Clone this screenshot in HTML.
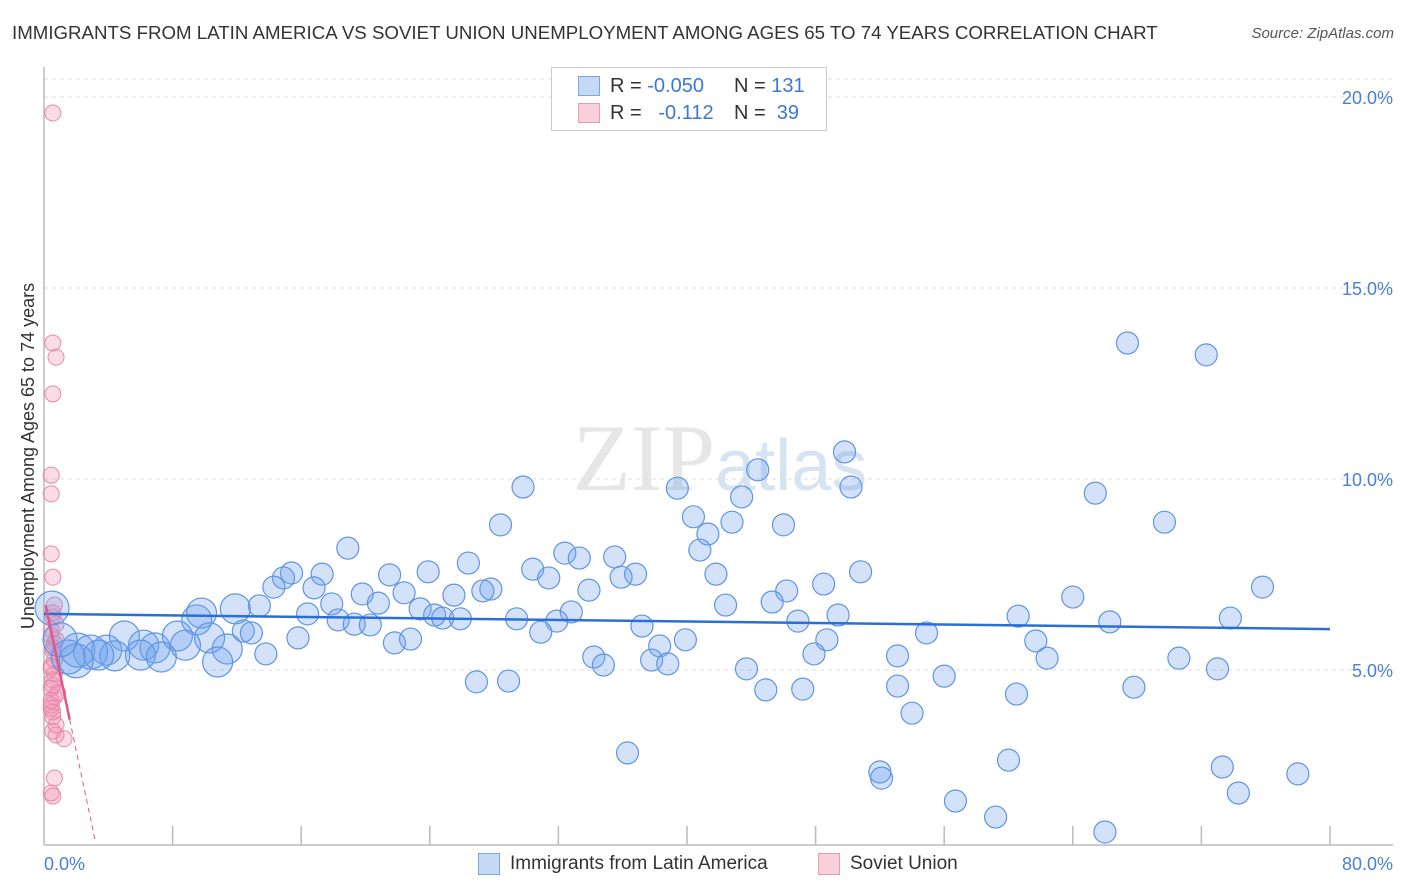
<!DOCTYPE html>
<html><head><meta charset="utf-8">
<style>
body{margin:0;background:#fff;font-family:"Liberation Sans",sans-serif;}
#wrap{position:relative;width:1406px;height:892px;overflow:hidden;}
.t{position:absolute;white-space:nowrap;}
</style></head><body>
<div id="wrap">
<div class="t" style="left:12px;top:22px;font-size:18.7px;color:#333;">IMMIGRANTS FROM LATIN AMERICA VS SOVIET UNION UNEMPLOYMENT AMONG AGES 65 TO 74 YEARS CORRELATION CHART</div>
<div class="t" style="right:12px;top:25px;font-size:15px;color:#555;font-style:italic;">Source: ZipAtlas.com</div>
<svg id="svg" width="1406" height="892" style="position:absolute;left:0;top:0"></svg>
</div>
<script>
const yTicks=[5,10,15,20];
const yTickLabels=["5.0%","10.0%","15.0%","20.0%"];
const blueX=[67.4,72.3,49.8,44.4,50.2,39.4,29.8,43.4,65.4,40.4,42.8,28.4,46.0,69.7,41.3,40.8,18.9,32.4,35.5,33.3,26.4,30.4,50.8,15.4,17.3,23.9,41.8,36.8,21.5,35.9,31.4,14.9,14.3,48.5,75.8,27.8,27.3,33.9,46.2,25.5,16.8,22.4,19.8,64.0,17.9,20.8,45.3,13.4,42.4,11.9,9.8,23.4,32.8,16.4,24.3,73.8,60.6,49.4,29.4,9.5,24.8,25.9,31.9,46.9,66.3,18.3,19.3,20.3,37.2,12.4,12.9,30.9,54.9,5.0,8.3,10.3,15.8,39.9,61.7,48.7,22.8,21.8,38.3,6.2,8.8,6.9,11.4,2.1,3.9,2.9,13.8,47.9,6.0,4.4,3.4,1.5,7.3,53.1,34.2,70.6,62.4,37.8,2.0,10.8,34.8,38.8,43.7,73.0,56.0,26.9,28.9,53.1,67.8,44.9,47.2,60.5,54.0,36.3,60.0,52.0,52.1,73.3,78.0,74.3,56.7,59.2,66.0,0.5,1.0];
const blueY=[13.56,13.25,10.71,10.24,9.79,9.76,9.79,9.53,9.63,9.01,8.87,8.80,8.80,8.87,8.56,8.14,8.19,8.06,7.96,7.93,7.80,7.64,7.57,7.54,7.51,7.57,7.51,7.51,7.49,7.43,7.41,7.41,7.17,7.25,7.17,7.12,7.07,7.09,7.07,6.96,7.15,7.02,6.99,6.91,6.73,6.75,6.78,6.68,6.70,6.60,6.49,6.60,6.52,6.47,6.44,6.36,6.41,6.44,6.34,6.31,6.36,6.34,6.28,6.28,6.26,6.31,6.20,6.18,6.15,6.02,5.97,5.99,5.97,5.89,5.89,5.84,5.84,5.79,5.76,5.79,5.81,5.71,5.63,5.65,5.65,5.58,5.55,5.52,5.52,5.47,5.42,5.42,5.39,5.37,5.39,5.34,5.34,5.37,5.34,5.31,5.31,5.26,5.24,5.21,5.13,5.16,5.03,5.03,4.84,4.69,4.71,4.58,4.55,4.48,4.50,4.37,3.87,2.83,2.64,2.33,2.17,2.46,2.28,1.78,1.57,1.15,0.76,6.62,5.79];
const pinkX=[0.3,0.3,0.5,0.3,0.2,0.2,0.2,0.3,0.4,0.3,0.2,0.5,0.3,0.4,0.2,0.3,0.2,0.4,0.2,0.3,0.5,0.3,0.4,0.2,0.3,0.5,0.2,0.3,0.2,0.4,0.3,0.6,0.2,0.3,0.5,1.0,0.4,0.3,0.2];
const pinkY=[19.58,13.56,13.19,12.23,10.10,9.61,8.04,7.43,6.70,6.39,6.05,5.79,5.58,5.26,5.05,4.74,4.53,4.29,4.08,3.77,3.56,3.40,2.17,1.78,1.70,6.2,5.9,5.5,5.1,4.9,4.6,4.4,4.2,3.9,3.3,3.2,5.7,6.5,4.0];
const blueTrend=[6.47,6.07];
const pinkTrend=[6.7,3.7];
const xMin=0,xMax=80;
const X=v=>44+(v-xMin)*(1286/(xMax-xMin));
const Y=v=>861-v*38.2;
const svg=document.getElementById('svg');
const NS='http://www.w3.org/2000/svg';
function mk(tag,attrs,parent){const e=document.createElementNS(NS,tag);for(const k in attrs)e.setAttribute(k,attrs[k]);(parent||svg).appendChild(e);return e;}
const wm=mk('text',{x:720,y:490,'text-anchor':'middle','font-size':95,'font-family':'Liberation Serif',fill:'#e6e6e6'});


wm.innerHTML='ZIP<tspan font-family="Liberation Sans" font-size="72" fill="#d6e3f3">atlas</tspan>';
yTicks.forEach((t,i)=>{
 const g=mk('line',{x1:44,x2:1393,y1:Y(t),y2:Y(t),stroke:'#ddd','stroke-dasharray':'4,4'});
 
 
 const l=mk('text',{x:1393,y:Y(t)+7,'text-anchor':'end','font-size':18,fill:'#4a7fd6'});
 
 
 l.textContent=yTickLabels[i];
});
const topLine=mk('line',{x1:44,x2:1393,y1:79,y2:79,stroke:'#ddd','stroke-dasharray':'4,4'});


const ya=mk('line',{x1:44,x2:44,y1:67,y2:845,stroke:'#bbb','stroke-width':1.5});


const xa=mk('line',{x1:44,x2:1393,y1:845,y2:845,stroke:'#bbb','stroke-width':1.5});


for(let i=1;i<=10;i++){const tk=mk('line',{x1:X(i*8),x2:X(i*8),y1:826,y2:845,stroke:'#bbb','stroke-width':1.5});
 
 }
const xl0=mk('text',{x:44,y:870,'font-size':18,fill:'#4a7fd6'});xl0.textContent='0.0%';


const xl1=mk('text',{x:1393,y:870,'font-size':18,fill:'#4a7fd6','text-anchor':'end'});xl1.textContent='80.0%';


const yt=mk('text',{transform:'translate(34,456) rotate(-90)','text-anchor':'middle','font-size':18,fill:'#333'});


yt.textContent='Unemployment Among Ages 65 to 74 years';
pinkX.forEach((x,i)=>{const c=mk('circle',{cx:X(x)+4,cy:Y(pinkY[i]),r:8,fill:'rgba(240,140,175,0.3)',stroke:'#e98aa8','stroke-width':1});
 
 });
blueX.forEach((x,i)=>{let r=11;if(x<12&&blueY[i]>5&&blueY[i]<6.8)r=15;if(x<3)r=17;
 const c=mk('circle',{cx:X(x),cy:Y(blueY[i]),r:r,fill:'rgba(110,160,235,0.3)',stroke:'#5f95e3','stroke-width':1.2});
 
 });
const bt=mk('line',{x1:X(0),x2:X(80),y1:Y(blueTrend[0]),y2:Y(blueTrend[1]),stroke:'#2a6fd6','stroke-width':2.5});


const pt=mk('line',{x1:X(0.1),x2:X(1.6),y1:Y(pinkTrend[0]),y2:Y(pinkTrend[1]),stroke:'#e0578a','stroke-width':2.5});


const pd=mk('line',{x1:X(1.6),x2:X(3.2),y1:Y(pinkTrend[1]),y2:Y(pinkTrend[1]-(pinkTrend[0]-pinkTrend[1])*(1.6/1.5)),stroke:'#e0578a','stroke-width':1,'stroke-dasharray':'5,4'});


</script>
<div class="t" style="left:551px;top:67px;width:274px;height:62px;border:1px solid #ccc;background:#fff;font-size:20px;">
 <div style="position:absolute;left:26px;top:8px;width:20px;height:18px;background:#c5d8f5;border:1px solid #7aa6e8"></div>
 <div style="position:absolute;left:58px;top:7px;color:#333">R = <span style="color:#3a78d8">-0.050</span></div>
 <div style="position:absolute;left:182px;top:7px;color:#333">N = <span style="color:#3a78d8">131</span></div>
 <div style="position:absolute;left:26px;top:35px;width:20px;height:18px;background:#f9cfdc;border:1px solid #ec9ab4"></div>
 <div style="position:absolute;left:58px;top:34px;color:#333">R = &nbsp;&nbsp;<span style="color:#3a78d8">-0.112</span></div>
 <div style="position:absolute;left:182px;top:34px;color:#333">N = &nbsp;<span style="color:#3a78d8">39</span></div>
</div>
<div style="position:absolute;left:478px;top:853px;">
 <div style="position:absolute;left:0;top:0;width:20px;height:20px;background:#c5d8f5;border:1px solid #7aa6e8"></div>
 <div class="t" style="left:32px;top:0;font-size:19px;color:#333">Immigrants from Latin America</div>
</div>
<div style="position:absolute;left:818px;top:853px;">
 <div style="position:absolute;left:0;top:0;width:20px;height:20px;background:#f9cfdc;border:1px solid #ec9ab4"></div>
 <div class="t" style="left:32px;top:0;font-size:19px;color:#333">Soviet Union</div>
</div>
</body></html>
